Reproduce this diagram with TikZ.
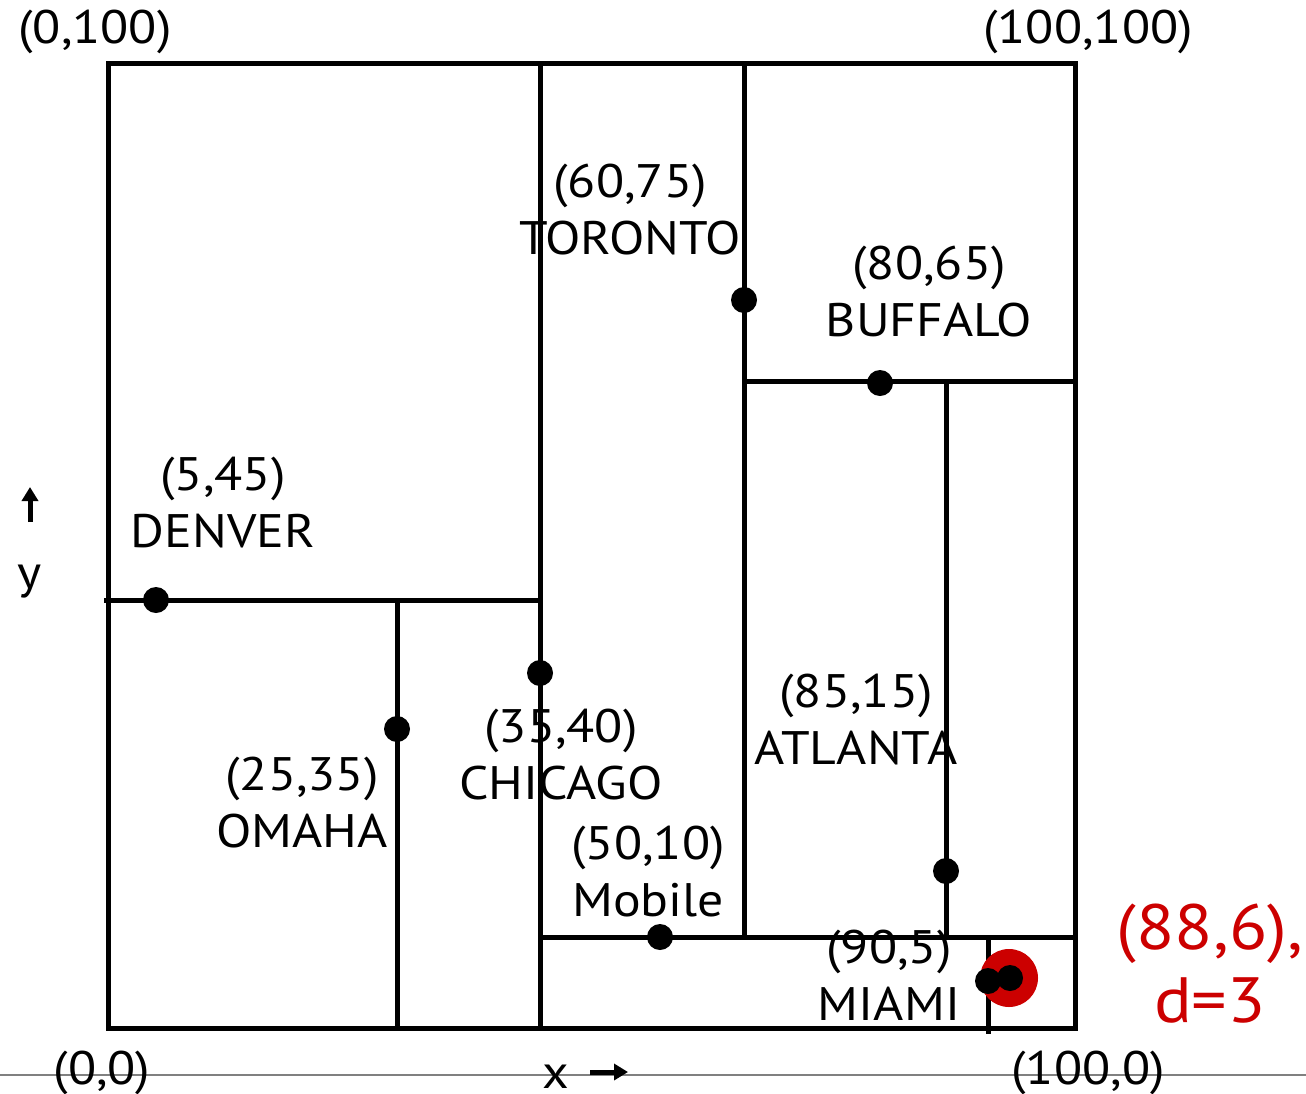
\documentclass[tikz,border=0pt]{standalone}
\usepackage{fontspec}
\setmainfont[FakeStretch=1.1]{PT Sans}
\usetikzlibrary{arrows.meta}
\definecolor{qred}{RGB}{204,0,0}
\definecolor{axisgray}{RGB}{128,128,128}
\begin{document}
\begin{tikzpicture}[x=1pt,y=-1pt,
  part/.style={line width=5pt},
  city/.style={circle,fill=black,inner sep=0pt,minimum size=26pt},
  lbl/.style={font=\fontsize{47}{57}\selectfont,align=center,inner sep=0pt},
  redlbl/.style={font=\fontsize{64}{73}\selectfont,align=center,inner sep=0pt,text=qred},
  axarrow/.style={line width=5pt,-{Triangle[length=14pt,width=16pt]}}]
\useasboundingbox (0,0) rectangle (1306,1093);
% baseline
\draw[axisgray,line width=2pt] (0,1075) -- (1306,1075);
% partitions
\draw[part] (108,63) rectangle (1075,1028);
\draw[part] (540,63) -- (540,1028);
\draw[part] (744,63) -- (744,937);
\draw[part] (104,600) -- (540,600);
\draw[part] (397,600) -- (397,1028);
\draw[part] (744,381) -- (1078,381);
\draw[part] (946,381) -- (946,937);
\draw[part] (540,937) -- (1075,937);
\draw[part] (988,937) -- (988,1034);
% query circle
\fill[qred] (1009,978) circle (29);
% cities
\node[city] (denver) at (156,600) {};
\node[city] (toronto) at (744,300) {};
\node[city] (buffalo) at (880,383) {};
\node[city] (chicago) at (540,673) {};
\node[city] (omaha) at (397,729) {};
\node[city] (mobile) at (660,937) {};
\node[city] (atlanta) at (946,871) {};
\node[city] (miami) at (988,981) {};
\node[city] (query) at (1010,978) {};
% labels
\node[lbl] (ltoronto) at (630,210) {(60,75)\\TORONTO};
\node[lbl] (lbuffalo) at (929,292) {(80,65)\\BUFFALO};
\node[lbl] (ldenver) at (223,503) {(5,45)\\DENVER};
\node[lbl] (latlanta) at (856,720) {(85,15)\\ATLANTA};
\node[lbl] (lchicago) at (561,755) {(35,40)\\CHICAGO};
\node[lbl] (lomaha) at (302,803) {(25,35)\\OMAHA};
\node[lbl] (lmobile) at (648,872) {(50,10)\\Mobile};
\node[lbl] (lmiami) at (889,975) {(90,5)\\MIAMI};
\node[redlbl] (lquery) at (1210,964) {(88,6),\\d=3};
% corners
\node[lbl] (c01) at (95,32) {(0,100)};
\node[lbl] (c11) at (1088,32) {(100,100)};
\node[lbl] (c00) at (102,1073) {(0,0)};
\node[lbl] (c10) at (1088,1073) {(100,0)};
% axes
\node[lbl] (xlab) at (556,1077) {x};
\coordinate (xa) at (590,1072);
\coordinate (xb) at (628,1072);
\draw[axarrow] (xa) -- (xb);
\node[lbl] (ylab) at (30,582) {y};
\coordinate (ya) at (30,522);
\coordinate (yb) at (30,487);
\draw[axarrow] (ya) -- (yb);
\end{tikzpicture}
\end{document}
